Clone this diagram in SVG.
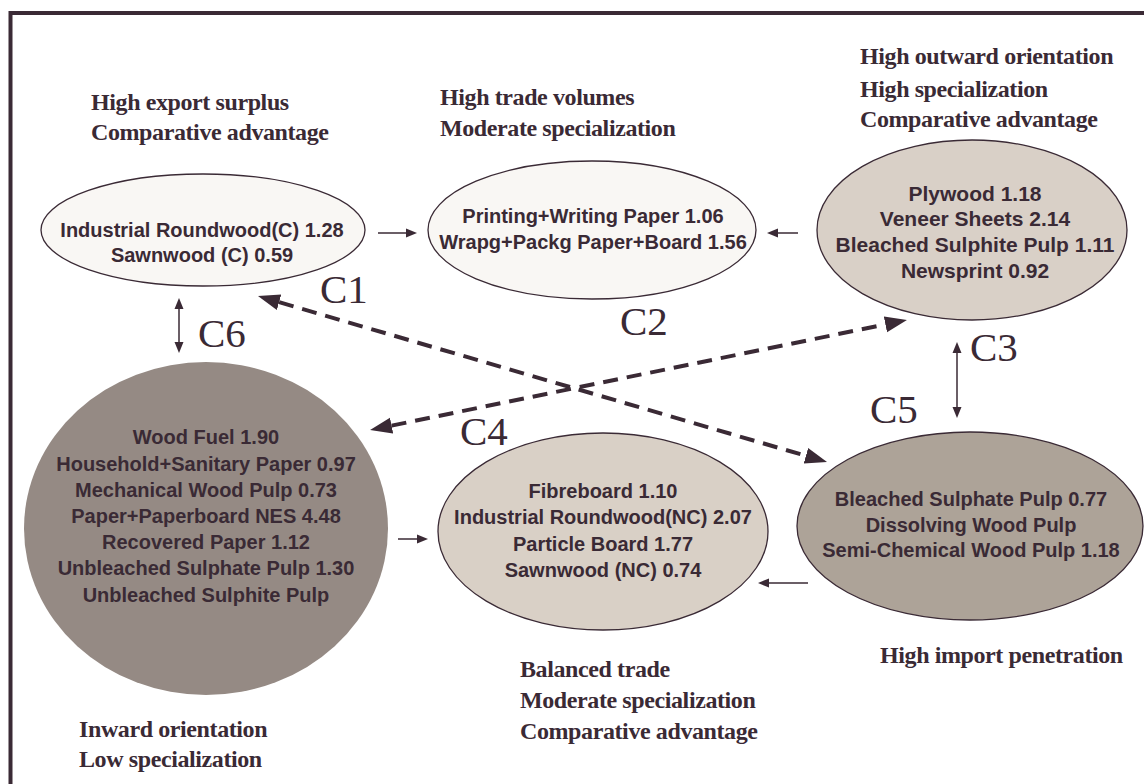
<svg xmlns="http://www.w3.org/2000/svg" width="1144" height="784" viewBox="0 0 1144 784">
<defs>
<style>
.hdr{font-family:"Liberation Serif","Times New Roman",serif;font-weight:bold;font-size:24px;letter-spacing:-0.4px;fill:#3a2a35}
.nt{font-family:"Liberation Sans",Arial,sans-serif;font-weight:bold;font-size:20px;fill:#3a2a35;text-anchor:middle}
.cl{font-family:"Liberation Serif","Times New Roman",serif;font-size:41px;fill:#3a2a35}
.node{stroke:#3a2a35;stroke-width:1.3}
.thin{stroke:#3a2a35;stroke-width:1.5;fill:none}
.dash{stroke:#3a2a35;stroke-width:4;fill:none;stroke-dasharray:15 9}
</style>
<marker id="ah" markerUnits="userSpaceOnUse" markerWidth="14" markerHeight="12" refX="0" refY="6" orient="auto-start-reverse" viewBox="0 0 14 12">
<path d="M0,1.5 L11,6 L0,10.5 z" fill="#3a2a35"/>
</marker>
<marker id="bh" markerUnits="userSpaceOnUse" markerWidth="24" markerHeight="20" refX="0" refY="10" orient="auto-start-reverse" viewBox="0 0 24 20">
<path d="M0,2 L22,10 L0,18 z" fill="#3a2a35"/>
</marker>
</defs>
<rect width="1144" height="784" fill="#ffffff"/>
<rect x="10.5" y="13" width="1200" height="820" fill="none" stroke="#3a2a35" stroke-width="4"/>

<g id="labels">
<text class="hdr" x="91" y="110">High export surplus</text>
<text class="hdr" x="91" y="140">Comparative advantage</text>
<text class="hdr" x="440" y="105">High trade volumes</text>
<text class="hdr" x="440" y="136">Moderate specialization</text>
<text class="hdr" x="860" y="64">High outward orientation</text>
<text class="hdr" x="860" y="97">High specialization</text>
<text class="hdr" x="860" y="127">Comparative advantage</text>
<text class="hdr" x="880" y="663">High import penetration</text>
<text class="hdr" x="520" y="677">Balanced trade</text>
<text class="hdr" x="520" y="708">Moderate specialization</text>
<text class="hdr" x="520" y="739">Comparative advantage</text>
<text class="hdr" x="79" y="737">Inward orientation</text>
<text class="hdr" x="79" y="767">Low specialization</text>
</g>

<g id="node-c1">
<ellipse class="node" cx="203" cy="230" rx="162" ry="56" fill="#f9f7f4"/>
<text class="nt" x="202" y="237">Industrial Roundwood(C) 1.28</text>
<text class="nt" x="202" y="262">Sawnwood (C) 0.59</text>
</g>

<g id="node-c2">
<ellipse class="node" cx="592" cy="230" rx="164" ry="69" fill="#f9f7f4"/>
<text class="nt" x="593" y="223">Printing+Writing Paper 1.06</text>
<text class="nt" x="593" y="249">Wrapg+Packg Paper+Board 1.56</text>
</g>

<g id="node-c3">
<ellipse class="node" cx="972" cy="230" rx="155" ry="90" fill="#d9d0c7"/>
<text class="nt" x="975" y="201" style="font-size:21px">Plywood 1.18</text>
<text class="nt" x="975" y="226" style="font-size:21px">Veneer Sheets 2.14</text>
<text class="nt" x="975" y="252" style="font-size:21px">Bleached Sulphite Pulp 1.11</text>
<text class="nt" x="975" y="278" style="font-size:21px">Newsprint 0.92</text>
</g>

<g id="node-c6">
<ellipse cx="206" cy="528.5" rx="182" ry="166.5" fill="#958a84"/>
<text class="nt" x="206" y="444">Wood Fuel 1.90</text>
<text class="nt" x="206" y="471">Household+Sanitary Paper 0.97</text>
<text class="nt" x="206" y="497">Mechanical Wood Pulp 0.73</text>
<text class="nt" x="206" y="523">Paper+Paperboard NES 4.48</text>
<text class="nt" x="206" y="549">Recovered Paper 1.12</text>
<text class="nt" x="206" y="575">Unbleached Sulphate Pulp 1.30</text>
<text class="nt" x="206" y="602">Unbleached Sulphite Pulp</text>
</g>

<g id="node-c4">
<ellipse class="node" cx="603" cy="531.5" rx="165" ry="98.5" fill="#d9d0c6"/>
<text class="nt" x="603" y="498">Fibreboard 1.10</text>
<text class="nt" x="603" y="524">Industrial Roundwood(NC) 2.07</text>
<text class="nt" x="603" y="551">Particle Board 1.77</text>
<text class="nt" x="603" y="577">Sawnwood (NC) 0.74</text>
</g>

<g id="node-c5">
<ellipse class="node" cx="970" cy="526" rx="173" ry="94" fill="#ada398"/>
<text class="nt" x="971" y="506">Bleached Sulphate Pulp 0.77</text>
<text class="nt" x="971" y="532">Dissolving Wood Pulp</text>
<text class="nt" x="971" y="557">Semi-Chemical Wood Pulp 1.18</text>
</g>

<g id="connectors">
<line class="thin" x1="378" y1="233" x2="406" y2="233" marker-end="url(#ah)"/>
<line class="thin" x1="798" y1="233" x2="778" y2="233" marker-end="url(#ah)"/>
<line class="thin" x1="179" y1="309" x2="179" y2="342" marker-start="url(#ah)" marker-end="url(#ah)"/>
<line class="thin" x1="957" y1="353" x2="957" y2="407" marker-start="url(#ah)" marker-end="url(#ah)"/>
<line class="thin" x1="398" y1="539" x2="417" y2="539" marker-end="url(#ah)"/>
<line class="thin" x1="808" y1="583" x2="769" y2="583" marker-end="url(#ah)"/>
<line class="dash" x1="279.1" y1="302.2" x2="805.9" y2="455.8" marker-start="url(#bh)" marker-end="url(#bh)"/>
<line class="dash" x1="391.6" y1="425.6" x2="885.4" y2="324.4" marker-start="url(#bh)" marker-end="url(#bh)"/>
</g>

<g id="cluster-labels">
<text class="cl" x="320" y="303">C1</text>
<text class="cl" x="620" y="335">C2</text>
<text class="cl" x="970" y="361">C3</text>
<text class="cl" x="460" y="445">C4</text>
<text class="cl" x="870" y="423">C5</text>
<text class="cl" x="198" y="347">C6</text>
</g>
</svg>
